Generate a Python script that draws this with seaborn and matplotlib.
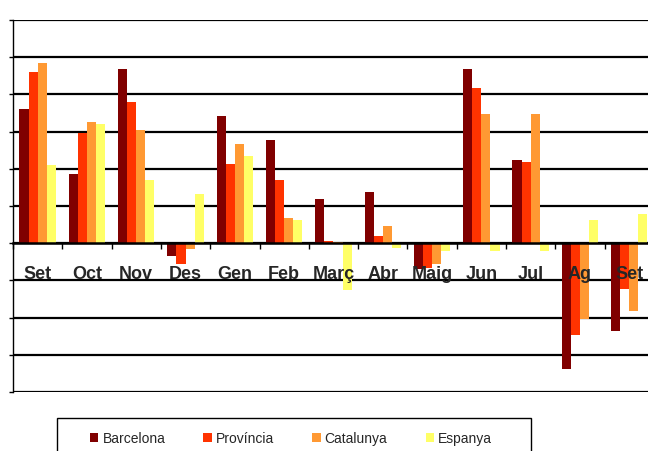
import numpy as np
import pandas as pd
import seaborn as sns
import matplotlib.pyplot as plt
from matplotlib.patches import Rectangle
from matplotlib.ticker import FixedLocator

# monthly values (one gridline = 1 unit)
months = ['Set', 'Oct', 'Nov', 'Des', 'Gen', 'Feb', 'Març', 'Abr', 'Maig',
          'Jun', 'Jul', 'Ag', 'Set2']
tick_labels = ['Set', 'Oct', 'Nov', 'Des', 'Gen', 'Feb', 'Març', 'Abr', 'Maig',
               'Jun', 'Jul', 'Ag', 'Set']
barcelona = [3.6, 1.85, 4.68, -0.35, 3.43, 2.78, 1.2, 1.37, -0.7, 4.68, 2.23, -3.38, -2.36]
provincia = [4.6, 2.95, 3.8, -0.57, 2.13, 1.7, 0.06, 0.19, -0.68, 4.18, 2.18, -2.47, -1.22]
catalunya = [4.85, 3.27, 3.05, -0.15, 2.67, 0.67, 0.02, 0.46, -0.57, 3.47, 3.47, -2.03, -1.82]
espanya = [2.1, 3.2, 1.7, 1.32, 2.35, 0.62, -1.27, -0.13, -0.2, -0.2, -0.2, 0.62, 0.78]

series = ['Barcelona', 'Província', 'Catalunya', 'Espanya']
colors = ['#800000', '#FF3300', '#FF9933', '#FFFF66']

df = pd.DataFrame({
    'mes': months * 4,
    'valor': barcelona + provincia + catalunya + espanya,
    'serie': [s for s in series for _ in months],
})

sns.set_style('white')
plt.rcParams['font.family'] = ['Liberation Sans', 'DejaVu Sans']

fig = plt.figure(figsize=(6.48, 4.52), dpi=100)
# plot area: x from 13px, 49.3px per month (runs past the right edge), y 21..393px
ax = fig.add_axes([13 / 648, 1 - 393 / 452, 13 * 49.3 / 648, 372 / 452])

sns.barplot(data=df, x='mes', y='valor', hue='serie', order=months,
            hue_order=series, palette=colors, width=0.74, gap=0,
            linewidth=0, saturation=1, ax=ax)

ax.set_xlim(-0.5, len(months) - 0.5)
ax.set_ylim(-4, 6)
ax.set_yticks(np.arange(-4, 7))
ax.set_yticklabels([])
ax.yaxis.grid(True, color='black', linewidth=1.6)
ax.set_axisbelow(True)
ax.tick_params(axis='y', left=True, direction='out', length=3, width=1, color='black')

for s in ['top', 'right']:
    ax.spines[s].set_visible(False)
ax.spines['left'].set_color('black')
ax.spines['left'].set_linewidth(1)
ax.spines['bottom'].set_position(('data', 0))
ax.spines['bottom'].set_color('black')
ax.spines['bottom'].set_linewidth(1.8)
ax.spines['bottom'].set_zorder(2.6)

ax.set_xticks(range(len(months)))
ax.set_xticklabels(tick_labels, fontsize=13, fontweight='bold')
ax.tick_params(axis='x', which='major', length=0, pad=16)
ax.xaxis.set_minor_locator(FixedLocator(np.arange(-0.5, len(months), 1)))
ax.tick_params(axis='x', which='minor', bottom=True, direction='out',
               length=4, width=1, color='black')
ax.set_xlabel('')
ax.set_ylabel('')
# month names sit on top of the bars
for lbl in ax.get_xticklabels():
    lbl.set_zorder(5)
ax.xaxis.set_zorder(5)

handles, labels = ax.get_legend_handles_labels()
ax.legend_.remove()
fig.legend(handles, labels, loc='center left', ncol=4, mode='expand',
           bbox_to_anchor=(90 / 648, 1 - 446 / 452, 402 / 648, 14 / 452),
           fontsize=10, frameon=False, handlelength=0.6, handleheight=0.6,
           handletextpad=0.3, borderpad=0, borderaxespad=0, columnspacing=1.0)
# legend box, cut off by the bottom edge like in the original
fig.add_artist(Rectangle((57 / 648, -0.05), 474 / 648, 0.05 + 1 - 419 / 452,
                         transform=fig.transFigure, fill=False,
                         edgecolor='black', linewidth=1))

fig.savefig('out.png', dpi=100)
